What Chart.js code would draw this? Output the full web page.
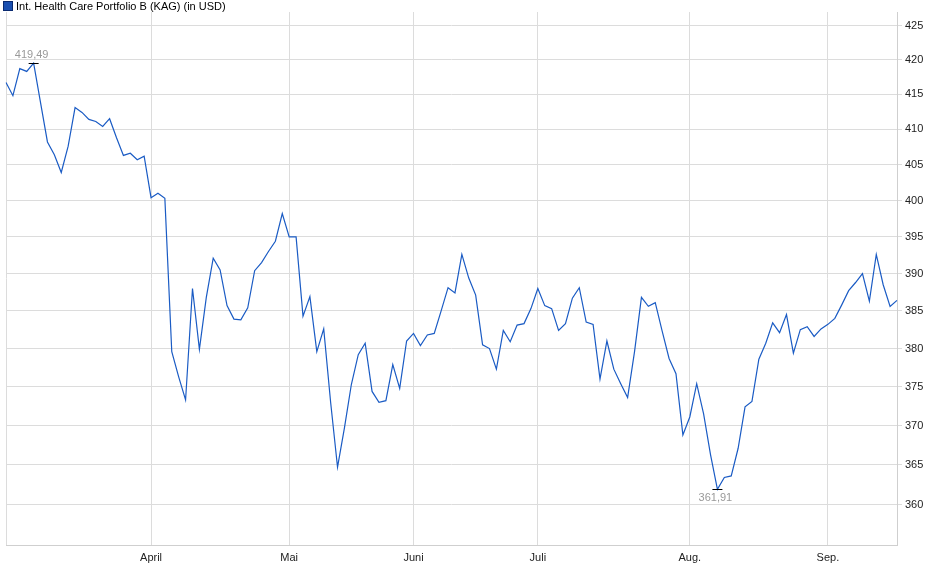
<!DOCTYPE html>
<html>
<head>
<meta charset="utf-8">
<script src="https://cdn.jsdelivr.net/npm/chart.js@4.4.1/dist/chart.umd.min.js"></script>
<style>
  body { margin: 0; background: #fff; font-family: "Liberation Sans", Arial, sans-serif; }
  #wrap { position: relative; width: 940px; height: 579px; }
  #legend { position: absolute; left: 3px; top: 0px; font-size: 11px; color: #000; line-height: 13px; }
  #legend span { display: inline-block; width: 8px; height: 8px; background: #1a4fb0; border: 1px solid #0a2a70; margin-right: 3px; vertical-align: -1px; }
</style>
</head>
<body>
<div id="wrap">
  <canvas id="c" width="940" height="579"></canvas>
  <div id="legend"><span></span>Int. Health Care Portfolio B (KAG) (in USD)</div>
</div>
<script>
const prices = [
  416.7, 414.8, 418.7, 418.3, 419.49, 413.8, 408.2, 406.4, 403.9, 407.6,
  413.1, 412.4, 411.4, 411.1, 410.4, 411.5, 408.8, 406.3, 406.6, 405.7,
  406.2, 400.4, 401.0, 400.3, 379.6, 376.3, 373.3, 388.0, 379.9, 386.8,
  392.1, 390.5, 385.7, 383.9, 383.8, 385.4, 390.4, 391.5, 393.0, 394.4,
  398.2, 395.0, 395.0, 384.3, 386.9, 379.6, 382.6, 373.0, 364.7, 369.7,
  375.3, 379.2, 380.7, 374.4, 373.0, 373.2, 377.9, 374.8, 381.0, 382.0,
  380.4, 381.8, 382.0, 385.0, 388.1, 387.4, 392.6, 389.4, 387.1, 380.5,
  380.0, 377.3, 382.4, 380.9, 383.1, 383.3, 385.3, 388.0, 385.7, 385.3,
  382.4, 383.3, 386.7, 388.1, 383.5, 383.2, 376.0, 381.0, 377.3, 375.4,
  373.6, 379.6, 386.8, 385.6, 386.1, 382.3, 378.7, 376.7, 368.8, 371.1,
  375.4, 371.5, 366.3, 361.91, 363.4, 363.6, 367.1, 372.4, 373.1, 378.6,
  380.7, 383.4, 382.1, 384.5, 379.4, 382.5, 382.9, 381.6, 382.6, 383.2,
  384.0, 385.8, 387.7, 388.8, 390.0, 386.3, 392.6, 388.5, 385.6, 386.4
];
const monthNames = ['April', 'Mai', 'Juni', 'Juli', 'Aug.', 'Sep.'];
const monthIdx = [21, 41, 59, 77, 99, 119];
const yTicks = [360, 365, 370, 375, 380, 385, 390, 395, 400, 405, 410, 415, 420, 425];

const labels = prices.map((_, i) => {
  const k = monthIdx.indexOf(i);
  return k >= 0 ? monthNames[k] : '';
});

const fmt = v => v.toFixed(2).replace('.', ',');

const extremes = {
  id: 'extremes',
  afterDatasetsDraw(chart) {
    const { ctx, scales: { x, y } } = chart;
    const hi = prices.indexOf(Math.max(...prices));
    const lo = prices.indexOf(Math.min(...prices));
    ctx.save();
    ctx.font = '11px "Liberation Sans", Arial, sans-serif';
    ctx.textAlign = 'center';
    ctx.strokeStyle = '#000';
    ctx.lineWidth = 1;
    [[hi, -1], [lo, 1]].forEach(([i, dir]) => {
      const px = x.getPixelForValue(i), py = Math.round(y.getPixelForValue(prices[i])) + 0.5;
      ctx.beginPath();
      ctx.moveTo(px - 5, py); ctx.lineTo(px + 5, py);
      ctx.stroke();
      ctx.fillStyle = '#999';
      ctx.textBaseline = dir < 0 ? 'bottom' : 'top';
      ctx.fillText(fmt(prices[i]), px - 2, py + dir * 3);
    });
    ctx.restore();
  }
};

new Chart(document.getElementById('c'), {
  type: 'line',
  data: {
    labels,
    datasets: [{
      data: prices,
      borderColor: '#1a5bc4',
      borderWidth: 1.2,
      pointRadius: 0,
      tension: 0,
    }],
  },
  options: {
    responsive: false,
    animation: false,
    layout: { padding: { left: 5, right: 12, top: 12, bottom: 12 } },
    plugins: { legend: { display: false }, tooltip: { enabled: false } },
    scales: {
      x: {
        offset: false,
        grid: {
          color: c => (c.index === 0 || labels[c.index]) ? '#dcdcdc' : 'transparent',
          drawTicks: false,
        },
        border: { color: '#cfcfcf' },
        ticks: {
          autoSkip: false, maxRotation: 0, padding: 6,
          color: '#222', font: { size: 11, family: '"Liberation Sans", Arial, sans-serif' },
          callback: (v, i) => labels[i],
        },
        afterFit: s => { s.height = 22; },
      },
      y: {
        type: 'logarithmic',
        position: 'right',
        min: 355,
        max: 427,
        afterBuildTicks: s => { s.ticks = yTicks.map(v => ({ value: v })); },
        grid: { color: '#dcdcdc', tickLength: 5 },
        border: { color: '#cfcfcf' },
        ticks: {
          padding: 3,
          color: '#222', font: { size: 11, family: '"Liberation Sans", Arial, sans-serif' },
          callback: v => String(v),
        },
        afterFit: s => { s.width = 31; },
      },
    },
  },
  plugins: [extremes],
});
</script>
</body>
</html>
